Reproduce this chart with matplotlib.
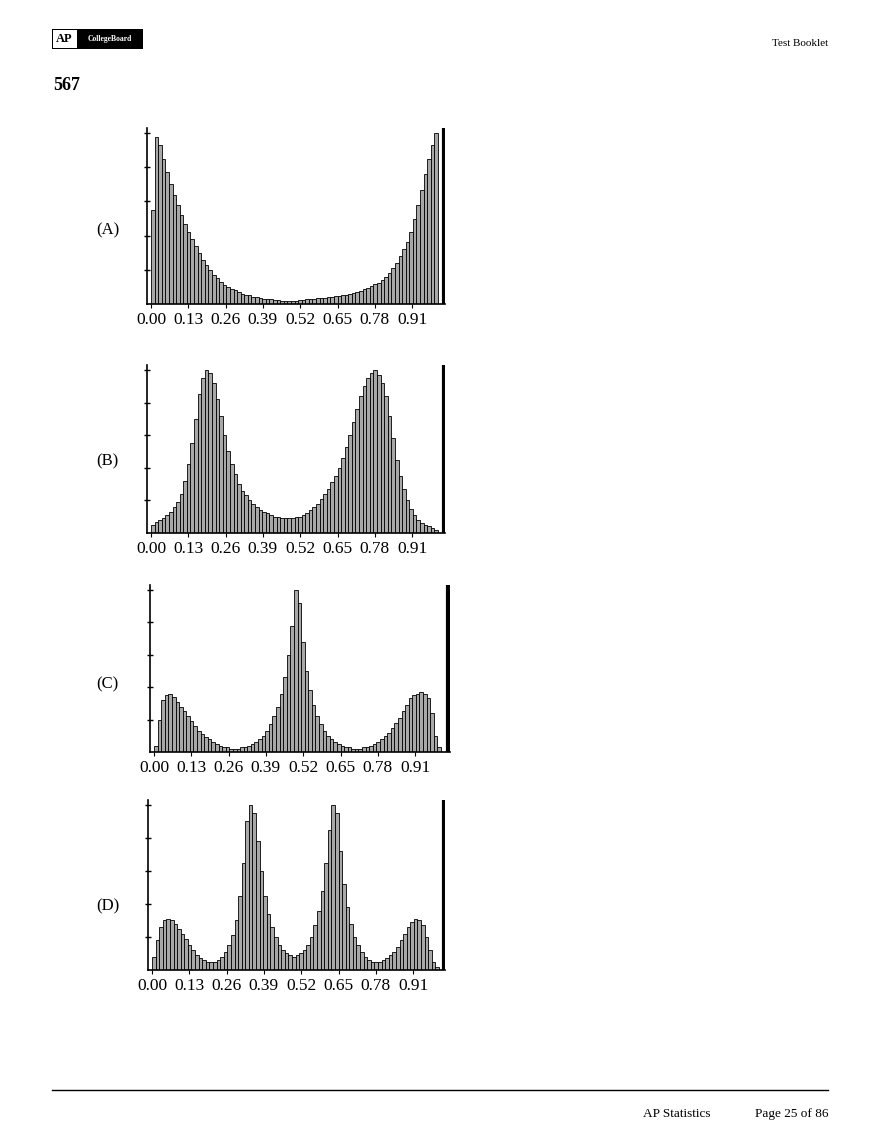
import matplotlib.pyplot as plt
import numpy as np

W, H = 880, 1139

# bar heights, relative (0-100), 80 bins over [0, 1]
hist_a = [55, 98, 93, 85, 77, 70, 64, 58,
          52, 47, 42, 38, 34, 30, 26, 23,
          20, 17, 15, 13, 11, 10, 9, 8,
          7, 6, 5, 5, 4, 4, 3.5, 3,
          3, 3, 2.5, 2.5, 2, 2, 2, 2,
          2, 2.5, 2.5, 3, 3, 3, 3.5, 3.5,
          3.5, 4, 4, 4.5, 4.5, 5, 5.5, 6,
          6.5, 7, 7.5, 8.5, 9.5, 10.5, 11.5, 12.5,
          14, 16, 18, 21, 24, 28, 32, 36,
          42, 50, 58, 67, 76, 85, 93, 100]
hist_b = [5, 7, 8, 9, 11, 13, 16, 19,
          24, 32, 42, 55, 70, 85, 95, 100,
          98, 92, 82, 72, 60, 50, 42, 36,
          30, 26, 23, 20, 18, 16, 14, 13,
          12, 11, 10, 10, 9, 9, 9, 9,
          10, 10, 11, 12, 14, 16, 18, 21,
          24, 27, 31, 35, 40, 46, 53, 60,
          68, 76, 84, 90, 95, 98, 100, 97,
          92, 84, 72, 58, 45, 35, 27, 20,
          15, 11, 8, 6, 5, 4, 3, 2]
hist_c = [4, 20, 32, 35, 36, 34, 31, 28,
          25, 22, 19, 16, 13, 11, 9, 8,
          6, 5, 4, 3, 3, 2, 2, 2,
          3, 3, 4, 5, 6, 8, 10, 13,
          17, 22, 28, 36, 46, 60, 78, 100,
          92, 68, 50, 38, 29, 22, 17, 13,
          10, 8, 6, 5, 4, 3, 3, 2,
          2, 2, 3, 3, 4, 5, 6, 8,
          10, 12, 15, 18, 21, 25, 29, 33,
          35, 36, 37, 36, 33, 24, 10, 3]
hist_d = [8, 18, 26, 30, 31, 30, 28, 25,
          22, 19, 15, 12, 9, 7, 6, 5,
          5, 5, 6, 8, 11, 15, 21, 30,
          45, 65, 90, 100, 95, 78, 60, 45,
          34, 26, 20, 15, 12, 10, 9, 8,
          9, 10, 12, 15, 20, 27, 36, 48,
          65, 85, 100, 95, 72, 52, 38, 28,
          20, 15, 11, 8, 6, 5, 5, 5,
          6, 7, 9, 11, 14, 18, 22, 26,
          29, 31, 30, 27, 20, 12, 5, 2]
tick_vals = [0.00, 0.13, 0.26, 0.39, 0.52, 0.65, 0.78, 0.91]
tick_labels = ["0.00", "0.13", "0.26", "0.39", "0.52", "0.65", "0.78", "0.91"]
letters = ["(A)", "(B)", "(C)", "(D)"]
letter_y = [230, 461, 684, 906]

# pixel boxes: left axis x, top y, bottom y, right line x
boxes = [(147, 128, 304, 442), (147, 365, 533, 442),
         (150, 585, 752, 447), (148, 800, 970, 442)]

fig = plt.figure(figsize=(W / 100, H / 100), dpi=100)
serif = "Liberation Serif"


def px_axes(x0, y0, x1, y1):
    return fig.add_axes([x0 / W, 1 - y1 / H, (x1 - x0) / W, (y1 - y0) / H])


for data, letter, ly, (lx, ty, by, rx) in zip([hist_a, hist_b, hist_c, hist_d], letters,
                                             letter_y, boxes):
    ax = px_axes(lx, ty, rx + 3, by)
    n = len(data)
    edges = np.linspace(0, 1, n + 1)
    ax.bar(edges[:-1], data, width=1 / n, align="edge", color="#a8a8a8",
           edgecolor="black", linewidth=0.6)
    # x limits so that x=0 sits 4px right of the left axis
    scale = 287.0
    xmin = -4 / scale
    xmax = xmin + (rx + 3 - lx) / scale
    ax.set_xlim(xmin, xmax)
    ax.set_ylim(0, 103)
    ax.axvline(xmin + (rx + 1.5 - lx) / scale, color="black", lw=3)
    for s in ["top", "right"]:
        ax.spines[s].set_visible(False)
    ax.spines["left"].set_linewidth(1.2)
    ax.spines["bottom"].set_linewidth(1.2)
    ax.set_yticks([20, 40, 60, 80, 100])
    ax.set_yticklabels([])
    ax.tick_params(axis="y", direction="inout", length=5, width=1)
    ax.set_xticks(tick_vals)
    ax.set_xticklabels(tick_labels, family=serif, fontsize=12.5)
    ax.tick_params(axis="x", length=3, width=0.8, pad=3)
    fig.text(96 / W, 1 - ly / H, letter, family=serif, fontsize=12, va="center")

# page furniture
logo = fig.add_axes([52 / W, 1 - 49 / H, 91 / W, 20 / H])
logo.set_xlim(0, 91)
logo.set_ylim(0, 20)
logo.axis("off")
logo.add_patch(plt.Rectangle((0, 0), 91, 20, facecolor="black"))
logo.add_patch(plt.Rectangle((1, 1), 24, 18, facecolor="white"))
logo.text(12.5, 10, "AP", family=serif, weight="bold", fontsize=9, ha="center", va="center")
logo.text(58, 10, "CollegeBoard", family=serif, weight="bold", fontsize=5.5, color="white",
          ha="center", va="center")

fig.text(828 / W, 1 - 44 / H, "Test Booklet", family=serif, fontsize=8, ha="right", va="center")
fig.text(53 / W, 1 - 86 / H, "567", family=serif, fontsize=13, weight="bold", va="center")
fig.add_artist(plt.Line2D([52 / W, 828 / W], [1 - 1090 / H, 1 - 1090 / H], color="black", lw=1))
fig.text(643 / W, 1 - 1114 / H, "AP Statistics", family=serif, fontsize=9.5, va="center")
fig.text(828 / W, 1 - 1114 / H, "Page 25 of 86", family=serif, fontsize=9.5, ha="right", va="center")

fig.savefig("out.png", dpi=100)
